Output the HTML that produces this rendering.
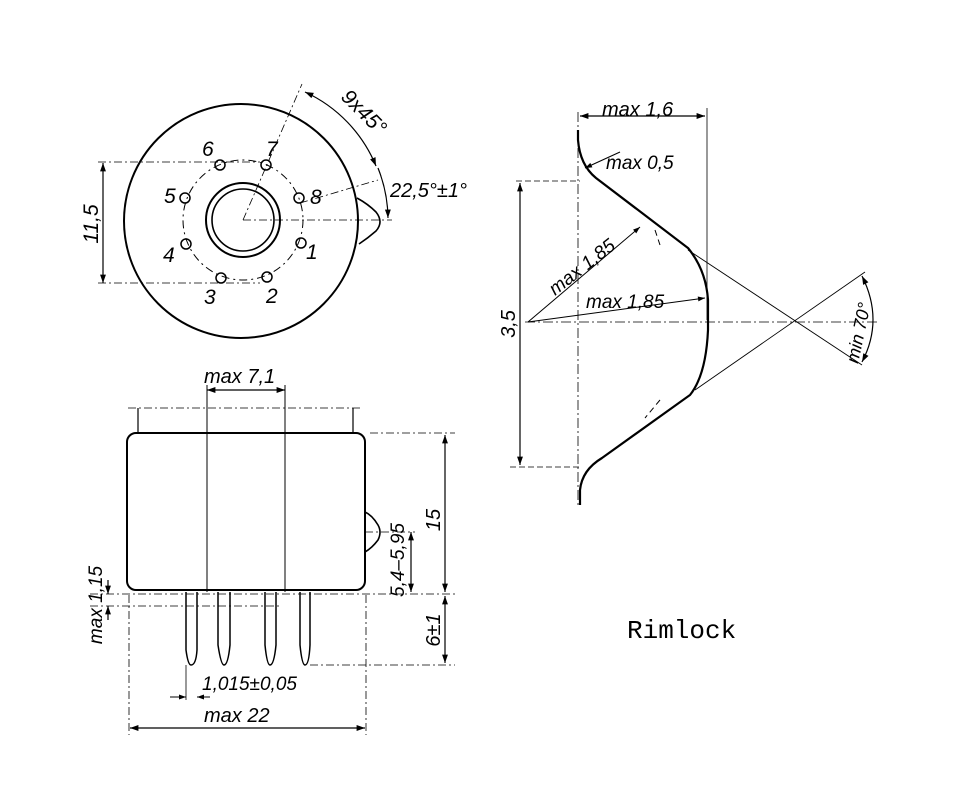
<!DOCTYPE html>
<html><head><style>
html,body{margin:0;padding:0;background:#fff}
svg{display:block}
text{font-family:"Liberation Sans",sans-serif;font-style:italic;fill:#000}
</style></head><body>
<svg width="960" height="800" viewBox="0 0 960 800" xmlns="http://www.w3.org/2000/svg">
<defs>
<marker id="a" viewBox="0 0 10 10" refX="10" refY="5" markerWidth="9" markerHeight="7" orient="auto-start-reverse"><path d="M0,1.5L10,5L0,8.5z" fill="#000"/></marker>
</defs>
<g fill="none" stroke="#000">
<circle cx="241" cy="221" r="117" stroke-width="2"/>
<circle cx="243" cy="220" r="37" stroke-width="2"/>
<circle cx="243" cy="220" r="31" stroke-width="1.6"/>
<circle cx="243" cy="220" r="60" stroke-width="1" stroke-dasharray="8,4,2,4"/>
<g stroke-width="1.5">
<circle cx="266" cy="165" r="5"/><circle cx="299" cy="198" r="5"/><circle cx="301" cy="243" r="5"/><circle cx="267" cy="277" r="5"/>
<circle cx="221" cy="278" r="5"/><circle cx="186" cy="244" r="5"/><circle cx="185" cy="198" r="5"/><circle cx="220" cy="165" r="5"/>
</g>
<path d="M357,198 Q368,204 376,212 Q384,222 376,231 Q368,238 359,244" stroke-width="1.6"/>
<g stroke-width="0.8" stroke-dasharray="8,3,2,3">
<line x1="243" y1="220" x2="392" y2="220"/>
<line x1="243" y1="220" x2="302" y2="84"/>
<line x1="300" y1="203" x2="378" y2="180"/>
<line x1="98" y1="162" x2="260" y2="162"/>
<line x1="98" y1="283" x2="260" y2="283"/>
</g>
<line x1="103" y1="163" x2="103" y2="283" stroke-width="1.2" marker-start="url(#a)" marker-end="url(#a)"/>
<path d="M305,92 A140,140 0 0 1 376,166" stroke-width="1.2" marker-start="url(#a)" marker-end="url(#a)"/>
<path d="M378,168 A140,140 0 0 1 388,218" stroke-width="1.2" marker-end="url(#a)"/>
<rect x="127" y="433" width="238" height="157" rx="9" stroke-width="2"/>
<path d="M365,512 Q372,515 378,525 Q382,532 378,540 Q372,548 365,552" stroke-width="1.6"/>
<line x1="128" y1="408" x2="362" y2="408" stroke-width="0.8" stroke-dasharray="8,3,2,3"/>
<line x1="138" y1="408" x2="138" y2="433" stroke-width="1.2"/>
<line x1="353" y1="408" x2="353" y2="433" stroke-width="1.2"/>
<line x1="207" y1="385" x2="207" y2="592" stroke-width="1"/>
<line x1="285" y1="385" x2="285" y2="592" stroke-width="1"/>
<line x1="207" y1="390" x2="285" y2="390" stroke-width="1.2" marker-start="url(#a)" marker-end="url(#a)"/>
<g stroke-width="1.5">
<path d="M186,592 V650 Q188,665 191,665 Q196,665 197,650 V592"/>
<path d="M218,592 V645 Q221,665 224,665 Q228,665 230,645 V592"/>
<path d="M265,592 V645 Q267,665 270,665 Q274,665 276,645 V592"/>
<path d="M300,592 V645 Q302,665 305,665 Q309,665 310,645 V592"/>
</g>
<g stroke-width="0.8" stroke-dasharray="8,3,2,3">
<line x1="370" y1="433" x2="455" y2="433"/>
<line x1="90" y1="594" x2="455" y2="594"/>
<line x1="90" y1="606" x2="280" y2="606"/>
<line x1="310" y1="665" x2="455" y2="665"/>
<line x1="129" y1="595" x2="129" y2="735"/>
<line x1="366" y1="595" x2="366" y2="735"/>
<line x1="365" y1="532" x2="415" y2="532"/>
</g>
<line x1="445" y1="435" x2="445" y2="592" stroke-width="1.2" marker-start="url(#a)" marker-end="url(#a)"/>
<line x1="445" y1="596" x2="445" y2="663" stroke-width="1.2" marker-start="url(#a)" marker-end="url(#a)"/>
<line x1="411" y1="532" x2="411" y2="592" stroke-width="1.2" marker-start="url(#a)" marker-end="url(#a)"/>
<line x1="108" y1="580" x2="108" y2="594" stroke-width="1.2" marker-end="url(#a)"/>
<line x1="108" y1="620" x2="108" y2="606" stroke-width="1.2" marker-end="url(#a)"/>
<line x1="130" y1="728" x2="365" y2="728" stroke-width="1.2" marker-start="url(#a)" marker-end="url(#a)"/>
<line x1="170" y1="697" x2="186" y2="697" stroke-width="1" marker-end="url(#a)"/>
<line x1="210" y1="697" x2="197" y2="697" stroke-width="1" marker-end="url(#a)"/>
<line x1="186" y1="665" x2="186" y2="700" stroke-width="0.8"/>
<line x1="578" y1="112" x2="578" y2="505" stroke-width="0.8" stroke-dasharray="10,3,2,3"/>
<line x1="707" y1="108" x2="707" y2="320" stroke-width="0.8"/>
<line x1="580" y1="116" x2="705" y2="116" stroke-width="1.2" marker-start="url(#a)" marker-end="url(#a)"/>
<path d="M578,130 V140 Q580,165 596,178 L688,248 Q706,270 708,300 V330 Q706,375 690,395 L602,458 Q582,470 580,490 V505" stroke-width="2.2"/>
<line x1="516" y1="181" x2="580" y2="181" stroke-width="0.8" stroke-dasharray="6,3"/>
<line x1="510" y1="467" x2="580" y2="467" stroke-width="0.8" stroke-dasharray="6,3"/>
<line x1="520" y1="183" x2="520" y2="465" stroke-width="1.2" marker-start="url(#a)" marker-end="url(#a)"/>
<line x1="525" y1="322" x2="880" y2="322" stroke-width="0.8" stroke-dasharray="10,3,2,3"/>
<line x1="688" y1="250" x2="862" y2="365" stroke-width="0.9"/>
<line x1="695" y1="390" x2="865" y2="272" stroke-width="0.9"/>
<line x1="528" y1="322" x2="640" y2="227" stroke-width="1" marker-end="url(#a)"/>
<line x1="528" y1="322" x2="705" y2="298" stroke-width="1" marker-end="url(#a)"/>
<line x1="620" y1="152" x2="585" y2="168" stroke-width="1" marker-end="url(#a)"/>
<path d="M862,276 Q884,320 862,362" stroke-width="1.2" marker-start="url(#a)" marker-end="url(#a)"/>
<path d="M655,230 L660,245 M660,400 L645,418" stroke-width="1" stroke-dasharray="6,4"/>
</g>
<g font-size="21">
<text x="202" y="156">6</text><text x="266" y="156">7</text><text x="164" y="203">5</text><text x="310" y="204">8</text>
<text x="163" y="262">4</text><text x="306" y="259">1</text><text x="204" y="304">3</text><text x="266" y="303">2</text>
<text transform="translate(98,224) rotate(-90)" text-anchor="middle">11,5</text>
<text transform="translate(340,98) rotate(45)">9x45°</text>
<text x="390" y="197" font-size="20">22,5°±1°</text>
<text x="204" y="383" font-size="20">max 7,1</text>
<text transform="translate(440,520) rotate(-90)" text-anchor="middle" font-size="20">15</text>
<text transform="translate(440,630) rotate(-90)" text-anchor="middle" font-size="20">6±1</text>
<text transform="translate(404,560) rotate(-90)" text-anchor="middle" font-size="19">5,4–5,95</text>
<text transform="translate(102,605) rotate(-90)" text-anchor="middle" font-size="19">max 1,15</text>
<text x="202" y="690" font-size="19">1,015±0,05</text>
<text x="204" y="722" font-size="20">max 22</text>
<text x="602" y="116" font-size="20">max 1,6</text>
<text x="606" y="169" font-size="19">max 0,5</text>
<text transform="translate(515,324) rotate(-90)" text-anchor="middle" font-size="20">3,5</text>
<text transform="translate(555,296) rotate(-38)" font-size="19">max 1,85</text>
<text x="586" y="308" font-size="19">max 1,85</text>
<text transform="translate(858,364) rotate(-78)" font-size="18">min 70°</text>
</g>
<text x="627" y="638" font-size="26" style="font-family:'Liberation Mono',monospace;font-style:normal">Rimlock</text>
</svg>
</body></html>
